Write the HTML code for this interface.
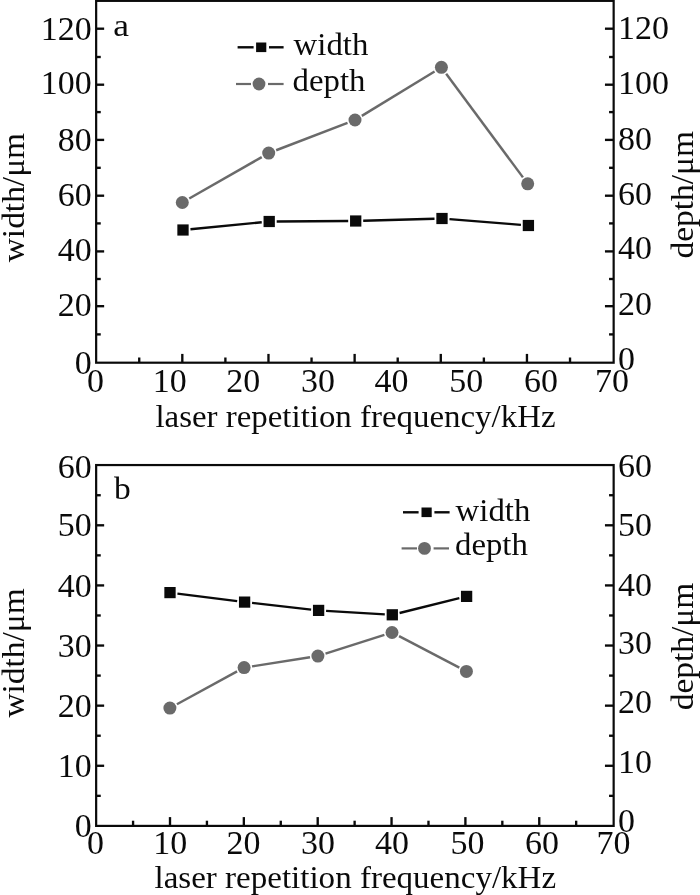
<!DOCTYPE html>
<html lang="en">
<head>
<meta charset="utf-8">
<title>Groove width and depth versus laser repetition frequency</title>
<style>
html,body{margin:0;padding:0;background:#fff;}
body{width:700px;height:895px;overflow:hidden;}
svg{display:block;filter:blur(0.35px);}
svg text{font-family:"Liberation Serif", "DejaVu Serif", serif;}
</style>
</head>
<body>
<svg width="700" height="895" viewBox="0 0 700 895">
<rect x="0" y="0" width="700" height="895" fill="#ffffff"/>
<rect x="96.15" y="0.85" width="517.5" height="361.84999999999997" fill="none" stroke="#0a0a0a" stroke-width="2.2"/>
<line x1="96.15" y1="306.20" x2="104.15" y2="306.20" stroke="#0a0a0a" stroke-width="2.35" stroke-linecap="butt"/>
<line x1="613.65" y1="306.20" x2="604.95" y2="306.20" stroke="#0a0a0a" stroke-width="2.35" stroke-linecap="butt"/>
<line x1="96.15" y1="251.40" x2="104.15" y2="251.40" stroke="#0a0a0a" stroke-width="2.35" stroke-linecap="butt"/>
<line x1="613.65" y1="251.40" x2="604.95" y2="251.40" stroke="#0a0a0a" stroke-width="2.35" stroke-linecap="butt"/>
<line x1="96.15" y1="195.70" x2="104.15" y2="195.70" stroke="#0a0a0a" stroke-width="2.35" stroke-linecap="butt"/>
<line x1="613.65" y1="195.70" x2="604.95" y2="195.70" stroke="#0a0a0a" stroke-width="2.35" stroke-linecap="butt"/>
<line x1="96.15" y1="139.90" x2="104.15" y2="139.90" stroke="#0a0a0a" stroke-width="2.35" stroke-linecap="butt"/>
<line x1="613.65" y1="139.90" x2="604.95" y2="139.90" stroke="#0a0a0a" stroke-width="2.35" stroke-linecap="butt"/>
<line x1="96.15" y1="84.70" x2="104.15" y2="84.70" stroke="#0a0a0a" stroke-width="2.35" stroke-linecap="butt"/>
<line x1="613.65" y1="84.70" x2="604.95" y2="84.70" stroke="#0a0a0a" stroke-width="2.35" stroke-linecap="butt"/>
<line x1="96.15" y1="28.70" x2="104.15" y2="28.70" stroke="#0a0a0a" stroke-width="2.35" stroke-linecap="butt"/>
<line x1="613.65" y1="28.70" x2="604.95" y2="28.70" stroke="#0a0a0a" stroke-width="2.35" stroke-linecap="butt"/>
<line x1="96.15" y1="334.40" x2="100.75" y2="334.40" stroke="#0a0a0a" stroke-width="2.35" stroke-linecap="butt"/>
<line x1="613.65" y1="334.40" x2="609.05" y2="334.40" stroke="#0a0a0a" stroke-width="2.35" stroke-linecap="butt"/>
<line x1="96.15" y1="279.00" x2="100.75" y2="279.00" stroke="#0a0a0a" stroke-width="2.35" stroke-linecap="butt"/>
<line x1="613.65" y1="279.00" x2="609.05" y2="279.00" stroke="#0a0a0a" stroke-width="2.35" stroke-linecap="butt"/>
<line x1="96.15" y1="223.40" x2="100.75" y2="223.40" stroke="#0a0a0a" stroke-width="2.35" stroke-linecap="butt"/>
<line x1="613.65" y1="223.40" x2="609.05" y2="223.40" stroke="#0a0a0a" stroke-width="2.35" stroke-linecap="butt"/>
<line x1="96.15" y1="167.80" x2="100.75" y2="167.80" stroke="#0a0a0a" stroke-width="2.35" stroke-linecap="butt"/>
<line x1="613.65" y1="167.80" x2="609.05" y2="167.80" stroke="#0a0a0a" stroke-width="2.35" stroke-linecap="butt"/>
<line x1="96.15" y1="112.10" x2="100.75" y2="112.10" stroke="#0a0a0a" stroke-width="2.35" stroke-linecap="butt"/>
<line x1="613.65" y1="112.10" x2="609.05" y2="112.10" stroke="#0a0a0a" stroke-width="2.35" stroke-linecap="butt"/>
<line x1="96.15" y1="57.00" x2="100.75" y2="57.00" stroke="#0a0a0a" stroke-width="2.35" stroke-linecap="butt"/>
<line x1="613.65" y1="57.00" x2="609.05" y2="57.00" stroke="#0a0a0a" stroke-width="2.35" stroke-linecap="butt"/>
<line x1="182.31" y1="362.70" x2="182.31" y2="353.90" stroke="#0a0a0a" stroke-width="2.35" stroke-linecap="butt"/>
<line x1="268.47" y1="362.70" x2="268.47" y2="353.90" stroke="#0a0a0a" stroke-width="2.35" stroke-linecap="butt"/>
<line x1="354.63" y1="362.70" x2="354.63" y2="353.90" stroke="#0a0a0a" stroke-width="2.35" stroke-linecap="butt"/>
<line x1="440.79" y1="362.70" x2="440.79" y2="353.90" stroke="#0a0a0a" stroke-width="2.35" stroke-linecap="butt"/>
<line x1="526.95" y1="362.70" x2="526.95" y2="353.90" stroke="#0a0a0a" stroke-width="2.35" stroke-linecap="butt"/>
<line x1="139.23" y1="362.70" x2="139.23" y2="357.50" stroke="#0a0a0a" stroke-width="2.35" stroke-linecap="butt"/>
<line x1="225.39" y1="362.70" x2="225.39" y2="357.50" stroke="#0a0a0a" stroke-width="2.35" stroke-linecap="butt"/>
<line x1="311.55" y1="362.70" x2="311.55" y2="357.50" stroke="#0a0a0a" stroke-width="2.35" stroke-linecap="butt"/>
<line x1="397.71" y1="362.70" x2="397.71" y2="357.50" stroke="#0a0a0a" stroke-width="2.35" stroke-linecap="butt"/>
<line x1="483.87" y1="362.70" x2="483.87" y2="357.50" stroke="#0a0a0a" stroke-width="2.35" stroke-linecap="butt"/>
<line x1="570.03" y1="362.70" x2="570.03" y2="357.50" stroke="#0a0a0a" stroke-width="2.35" stroke-linecap="butt"/>
<text transform="translate(91.75 373.70) scale(1.02 1)" text-anchor="end" font-size="33.3" fill="#0a0a0a">0</text>
<text transform="translate(91.75 316.20) scale(1.02 1)" text-anchor="end" font-size="33.3" fill="#0a0a0a">20</text>
<text transform="translate(91.75 260.50) scale(1.02 1)" text-anchor="end" font-size="33.3" fill="#0a0a0a">40</text>
<text transform="translate(91.75 205.70) scale(1.02 1)" text-anchor="end" font-size="33.3" fill="#0a0a0a">60</text>
<text transform="translate(91.75 151.00) scale(1.02 1)" text-anchor="end" font-size="33.3" fill="#0a0a0a">80</text>
<text transform="translate(91.75 94.00) scale(1.02 1)" text-anchor="end" font-size="33.3" fill="#0a0a0a">100</text>
<text transform="translate(91.75 39.80) scale(1.02 1)" text-anchor="end" font-size="33.3" fill="#0a0a0a">120</text>
<text transform="translate(617.95 370.00) scale(1.02 1)" text-anchor="start" font-size="33.3" fill="#0a0a0a">0</text>
<text transform="translate(617.95 315.00) scale(1.02 1)" text-anchor="start" font-size="33.3" fill="#0a0a0a">20</text>
<text transform="translate(617.95 259.40) scale(1.02 1)" text-anchor="start" font-size="33.3" fill="#0a0a0a">40</text>
<text transform="translate(617.95 204.80) scale(1.02 1)" text-anchor="start" font-size="33.3" fill="#0a0a0a">60</text>
<text transform="translate(617.95 150.10) scale(1.02 1)" text-anchor="start" font-size="33.3" fill="#0a0a0a">80</text>
<text transform="translate(617.95 94.20) scale(1.02 1)" text-anchor="start" font-size="33.3" fill="#0a0a0a">100</text>
<text transform="translate(617.95 38.80) scale(1.02 1)" text-anchor="start" font-size="33.3" fill="#0a0a0a">120</text>
<text transform="translate(95.50 392.20) scale(1.02 1)" text-anchor="middle" font-size="33.3" fill="#0a0a0a">0</text>
<text transform="translate(169.80 392.20) scale(1.02 1)" text-anchor="middle" font-size="33.3" fill="#0a0a0a">10</text>
<text transform="translate(243.20 392.20) scale(1.02 1)" text-anchor="middle" font-size="33.3" fill="#0a0a0a">20</text>
<text transform="translate(318.00 392.20) scale(1.02 1)" text-anchor="middle" font-size="33.3" fill="#0a0a0a">30</text>
<text transform="translate(391.50 392.20) scale(1.02 1)" text-anchor="middle" font-size="33.3" fill="#0a0a0a">40</text>
<text transform="translate(466.30 392.20) scale(1.02 1)" text-anchor="middle" font-size="33.3" fill="#0a0a0a">50</text>
<text transform="translate(541.00 392.20) scale(1.02 1)" text-anchor="middle" font-size="33.3" fill="#0a0a0a">60</text>
<text transform="translate(612.00 392.20) scale(1.02 1)" text-anchor="middle" font-size="33.3" fill="#0a0a0a">70</text>
<text transform="translate(23.70 197.60) rotate(-90) scale(1.065 1)" text-anchor="middle" font-size="31.4" fill="#0a0a0a">width/μm</text>
<text transform="translate(692.50 194.80) rotate(-90) scale(1.065 1)" text-anchor="middle" font-size="31.4" fill="#0a0a0a">depth/μm</text>
<text transform="translate(155.40 426.90) scale(1.048 1)" text-anchor="start" font-size="31.4" fill="#0a0a0a">laser repetition frequency/kHz</text>
<text transform="translate(113.20 35.80) scale(1.09 1)" text-anchor="start" font-size="32.6" fill="#0a0a0a">a</text>
<line x1="189.24" y1="198.53" x2="261.76" y2="157.07" stroke="#6a6a6a" stroke-width="2.45" stroke-linecap="butt"/>
<line x1="276.17" y1="150.24" x2="347.53" y2="122.86" stroke="#6a6a6a" stroke-width="2.45" stroke-linecap="butt"/>
<line x1="361.83" y1="115.83" x2="434.57" y2="71.47" stroke="#6a6a6a" stroke-width="2.45" stroke-linecap="butt"/>
<line x1="446.16" y1="73.73" x2="522.94" y2="177.37" stroke="#6a6a6a" stroke-width="2.45" stroke-linecap="butt"/>
<line x1="190.46" y1="229.26" x2="261.74" y2="222.24" stroke="#0a0a0a" stroke-width="2.35" stroke-linecap="butt"/>
<line x1="276.70" y1="221.46" x2="348.20" y2="221.04" stroke="#0a0a0a" stroke-width="2.35" stroke-linecap="butt"/>
<line x1="363.20" y1="220.78" x2="434.50" y2="218.72" stroke="#0a0a0a" stroke-width="2.35" stroke-linecap="butt"/>
<line x1="449.48" y1="219.11" x2="520.92" y2="224.89" stroke="#0a0a0a" stroke-width="2.35" stroke-linecap="butt"/>
<circle cx="182.30" cy="202.50" r="6.5" fill="#6a6a6a"/>
<circle cx="268.70" cy="153.10" r="6.5" fill="#6a6a6a"/>
<circle cx="355.00" cy="120.00" r="6.5" fill="#6a6a6a"/>
<circle cx="441.40" cy="67.30" r="6.5" fill="#6a6a6a"/>
<circle cx="527.70" cy="183.80" r="6.5" fill="#6a6a6a"/>
<rect x="177.35" y="224.40" width="11.3" height="11.2" fill="#0a0a0a"/>
<rect x="263.55" y="215.90" width="11.3" height="11.2" fill="#0a0a0a"/>
<rect x="350.05" y="215.40" width="11.3" height="11.2" fill="#0a0a0a"/>
<rect x="436.35" y="212.90" width="11.3" height="11.2" fill="#0a0a0a"/>
<rect x="522.75" y="219.90" width="11.3" height="11.2" fill="#0a0a0a"/>
<line x1="237.60" y1="47.30" x2="253.60" y2="47.30" stroke="#0a0a0a" stroke-width="2.4" stroke-linecap="butt"/>
<line x1="269.00" y1="47.30" x2="283.60" y2="47.30" stroke="#0a0a0a" stroke-width="2.4" stroke-linecap="butt"/>
<rect x="256.10" y="42.50" width="10.2" height="9.6" fill="#0a0a0a"/>
<text transform="translate(293.60 54.60) scale(1.045 1)" text-anchor="start" font-size="31.4" fill="#0a0a0a">width</text>
<line x1="236.00" y1="84.00" x2="251.00" y2="84.00" stroke="#6a6a6a" stroke-width="2.2" stroke-linecap="butt"/>
<line x1="268.00" y1="84.00" x2="283.60" y2="84.00" stroke="#6a6a6a" stroke-width="2.2" stroke-linecap="butt"/>
<circle cx="259.00" cy="84.00" r="6.4" fill="#6a6a6a"/>
<text transform="translate(292.60 91.00) scale(1.045 1)" text-anchor="start" font-size="31.4" fill="#0a0a0a">depth</text>
<rect x="96.15" y="465.05" width="517.5" height="360.84999999999997" fill="none" stroke="#0a0a0a" stroke-width="2.2"/>
<line x1="96.15" y1="765.78" x2="104.15" y2="765.78" stroke="#0a0a0a" stroke-width="2.35" stroke-linecap="butt"/>
<line x1="613.65" y1="765.78" x2="604.95" y2="765.78" stroke="#0a0a0a" stroke-width="2.35" stroke-linecap="butt"/>
<line x1="96.15" y1="705.66" x2="104.15" y2="705.66" stroke="#0a0a0a" stroke-width="2.35" stroke-linecap="butt"/>
<line x1="613.65" y1="705.66" x2="604.95" y2="705.66" stroke="#0a0a0a" stroke-width="2.35" stroke-linecap="butt"/>
<line x1="96.15" y1="645.54" x2="104.15" y2="645.54" stroke="#0a0a0a" stroke-width="2.35" stroke-linecap="butt"/>
<line x1="613.65" y1="645.54" x2="604.95" y2="645.54" stroke="#0a0a0a" stroke-width="2.35" stroke-linecap="butt"/>
<line x1="96.15" y1="585.42" x2="104.15" y2="585.42" stroke="#0a0a0a" stroke-width="2.35" stroke-linecap="butt"/>
<line x1="613.65" y1="585.42" x2="604.95" y2="585.42" stroke="#0a0a0a" stroke-width="2.35" stroke-linecap="butt"/>
<line x1="96.15" y1="525.30" x2="104.15" y2="525.30" stroke="#0a0a0a" stroke-width="2.35" stroke-linecap="butt"/>
<line x1="613.65" y1="525.30" x2="604.95" y2="525.30" stroke="#0a0a0a" stroke-width="2.35" stroke-linecap="butt"/>
<line x1="96.15" y1="795.84" x2="100.75" y2="795.84" stroke="#0a0a0a" stroke-width="2.35" stroke-linecap="butt"/>
<line x1="613.65" y1="795.84" x2="609.05" y2="795.84" stroke="#0a0a0a" stroke-width="2.35" stroke-linecap="butt"/>
<line x1="96.15" y1="735.72" x2="100.75" y2="735.72" stroke="#0a0a0a" stroke-width="2.35" stroke-linecap="butt"/>
<line x1="613.65" y1="735.72" x2="609.05" y2="735.72" stroke="#0a0a0a" stroke-width="2.35" stroke-linecap="butt"/>
<line x1="96.15" y1="675.60" x2="100.75" y2="675.60" stroke="#0a0a0a" stroke-width="2.35" stroke-linecap="butt"/>
<line x1="613.65" y1="675.60" x2="609.05" y2="675.60" stroke="#0a0a0a" stroke-width="2.35" stroke-linecap="butt"/>
<line x1="96.15" y1="615.48" x2="100.75" y2="615.48" stroke="#0a0a0a" stroke-width="2.35" stroke-linecap="butt"/>
<line x1="613.65" y1="615.48" x2="609.05" y2="615.48" stroke="#0a0a0a" stroke-width="2.35" stroke-linecap="butt"/>
<line x1="96.15" y1="555.36" x2="100.75" y2="555.36" stroke="#0a0a0a" stroke-width="2.35" stroke-linecap="butt"/>
<line x1="613.65" y1="555.36" x2="609.05" y2="555.36" stroke="#0a0a0a" stroke-width="2.35" stroke-linecap="butt"/>
<line x1="96.15" y1="495.24" x2="100.75" y2="495.24" stroke="#0a0a0a" stroke-width="2.35" stroke-linecap="butt"/>
<line x1="613.65" y1="495.24" x2="609.05" y2="495.24" stroke="#0a0a0a" stroke-width="2.35" stroke-linecap="butt"/>
<line x1="170.00" y1="825.90" x2="170.00" y2="817.10" stroke="#0a0a0a" stroke-width="2.35" stroke-linecap="butt"/>
<line x1="243.85" y1="825.90" x2="243.85" y2="817.10" stroke="#0a0a0a" stroke-width="2.35" stroke-linecap="butt"/>
<line x1="317.70" y1="825.90" x2="317.70" y2="817.10" stroke="#0a0a0a" stroke-width="2.35" stroke-linecap="butt"/>
<line x1="391.55" y1="825.90" x2="391.55" y2="817.10" stroke="#0a0a0a" stroke-width="2.35" stroke-linecap="butt"/>
<line x1="465.40" y1="825.90" x2="465.40" y2="817.10" stroke="#0a0a0a" stroke-width="2.35" stroke-linecap="butt"/>
<line x1="539.25" y1="825.90" x2="539.25" y2="817.10" stroke="#0a0a0a" stroke-width="2.35" stroke-linecap="butt"/>
<line x1="133.07" y1="825.90" x2="133.07" y2="820.70" stroke="#0a0a0a" stroke-width="2.35" stroke-linecap="butt"/>
<line x1="206.93" y1="825.90" x2="206.93" y2="820.70" stroke="#0a0a0a" stroke-width="2.35" stroke-linecap="butt"/>
<line x1="280.77" y1="825.90" x2="280.77" y2="820.70" stroke="#0a0a0a" stroke-width="2.35" stroke-linecap="butt"/>
<line x1="354.62" y1="825.90" x2="354.62" y2="820.70" stroke="#0a0a0a" stroke-width="2.35" stroke-linecap="butt"/>
<line x1="428.48" y1="825.90" x2="428.48" y2="820.70" stroke="#0a0a0a" stroke-width="2.35" stroke-linecap="butt"/>
<line x1="502.33" y1="825.90" x2="502.33" y2="820.70" stroke="#0a0a0a" stroke-width="2.35" stroke-linecap="butt"/>
<line x1="576.17" y1="825.90" x2="576.17" y2="820.70" stroke="#0a0a0a" stroke-width="2.35" stroke-linecap="butt"/>
<text transform="translate(91.75 837.10) scale(1.02 1)" text-anchor="end" font-size="33.3" fill="#0a0a0a">0</text>
<text transform="translate(91.75 776.98) scale(1.02 1)" text-anchor="end" font-size="33.3" fill="#0a0a0a">10</text>
<text transform="translate(91.75 716.86) scale(1.02 1)" text-anchor="end" font-size="33.3" fill="#0a0a0a">20</text>
<text transform="translate(91.75 656.74) scale(1.02 1)" text-anchor="end" font-size="33.3" fill="#0a0a0a">30</text>
<text transform="translate(91.75 596.62) scale(1.02 1)" text-anchor="end" font-size="33.3" fill="#0a0a0a">40</text>
<text transform="translate(91.75 536.00) scale(1.02 1)" text-anchor="end" font-size="33.3" fill="#0a0a0a">50</text>
<text transform="translate(91.75 477.50) scale(1.02 1)" text-anchor="end" font-size="33.3" fill="#0a0a0a">60</text>
<text transform="translate(617.95 832.00) scale(1.02 1)" text-anchor="start" font-size="33.3" fill="#0a0a0a">0</text>
<text transform="translate(617.95 772.70) scale(1.02 1)" text-anchor="start" font-size="33.3" fill="#0a0a0a">10</text>
<text transform="translate(617.95 713.10) scale(1.02 1)" text-anchor="start" font-size="33.3" fill="#0a0a0a">20</text>
<text transform="translate(617.95 653.70) scale(1.02 1)" text-anchor="start" font-size="33.3" fill="#0a0a0a">30</text>
<text transform="translate(617.95 595.60) scale(1.02 1)" text-anchor="start" font-size="33.3" fill="#0a0a0a">40</text>
<text transform="translate(617.95 536.10) scale(1.02 1)" text-anchor="start" font-size="33.3" fill="#0a0a0a">50</text>
<text transform="translate(617.95 477.40) scale(1.02 1)" text-anchor="start" font-size="33.3" fill="#0a0a0a">60</text>
<text transform="translate(95.50 854.20) scale(1.02 1)" text-anchor="middle" font-size="33.3" fill="#0a0a0a">0</text>
<text transform="translate(170.20 854.20) scale(1.02 1)" text-anchor="middle" font-size="33.3" fill="#0a0a0a">10</text>
<text transform="translate(243.50 854.20) scale(1.02 1)" text-anchor="middle" font-size="33.3" fill="#0a0a0a">20</text>
<text transform="translate(318.00 854.20) scale(1.02 1)" text-anchor="middle" font-size="33.3" fill="#0a0a0a">30</text>
<text transform="translate(392.00 854.20) scale(1.02 1)" text-anchor="middle" font-size="33.3" fill="#0a0a0a">40</text>
<text transform="translate(467.50 854.20) scale(1.02 1)" text-anchor="middle" font-size="33.3" fill="#0a0a0a">50</text>
<text transform="translate(542.00 854.20) scale(1.02 1)" text-anchor="middle" font-size="33.3" fill="#0a0a0a">60</text>
<text transform="translate(613.50 854.20) scale(1.02 1)" text-anchor="middle" font-size="33.3" fill="#0a0a0a">70</text>
<text transform="translate(23.70 652.90) rotate(-90) scale(1.065 1)" text-anchor="middle" font-size="31.4" fill="#0a0a0a">width/μm</text>
<text transform="translate(692.50 646.60) rotate(-90) scale(1.065 1)" text-anchor="middle" font-size="31.4" fill="#0a0a0a">depth/μm</text>
<text transform="translate(154.50 887.50) scale(1.052 1)" text-anchor="start" font-size="31.4" fill="#0a0a0a">laser repetition frequency/kHz</text>
<text transform="translate(113.90 498.60) scale(1.06 1)" text-anchor="start" font-size="31.6" fill="#0a0a0a">b</text>
<line x1="176.92" y1="704.27" x2="237.08" y2="671.43" stroke="#6a6a6a" stroke-width="2.45" stroke-linecap="butt"/>
<line x1="252.00" y1="666.37" x2="310.00" y2="657.33" stroke="#6a6a6a" stroke-width="2.45" stroke-linecap="butt"/>
<line x1="325.52" y1="653.67" x2="384.38" y2="634.93" stroke="#6a6a6a" stroke-width="2.45" stroke-linecap="butt"/>
<line x1="399.09" y1="636.21" x2="459.31" y2="667.69" stroke="#6a6a6a" stroke-width="2.45" stroke-linecap="butt"/>
<line x1="177.44" y1="593.55" x2="237.16" y2="601.15" stroke="#0a0a0a" stroke-width="2.35" stroke-linecap="butt"/>
<line x1="252.05" y1="602.94" x2="311.15" y2="609.56" stroke="#0a0a0a" stroke-width="2.35" stroke-linecap="butt"/>
<line x1="326.09" y1="610.85" x2="384.81" y2="614.35" stroke="#0a0a0a" stroke-width="2.35" stroke-linecap="butt"/>
<line x1="399.58" y1="613.00" x2="459.32" y2="598.20" stroke="#0a0a0a" stroke-width="2.35" stroke-linecap="butt"/>
<circle cx="169.90" cy="708.10" r="6.5" fill="#6a6a6a"/>
<circle cx="244.10" cy="667.60" r="6.5" fill="#6a6a6a"/>
<circle cx="317.90" cy="656.10" r="6.5" fill="#6a6a6a"/>
<circle cx="392.00" cy="632.50" r="6.5" fill="#6a6a6a"/>
<circle cx="466.40" cy="671.40" r="6.5" fill="#6a6a6a"/>
<rect x="164.35" y="587.00" width="11.3" height="11.2" fill="#0a0a0a"/>
<rect x="238.95" y="596.50" width="11.3" height="11.2" fill="#0a0a0a"/>
<rect x="312.95" y="604.80" width="11.3" height="11.2" fill="#0a0a0a"/>
<rect x="386.65" y="609.20" width="11.3" height="11.2" fill="#0a0a0a"/>
<rect x="460.95" y="590.80" width="11.3" height="11.2" fill="#0a0a0a"/>
<line x1="403.00" y1="512.30" x2="418.60" y2="512.30" stroke="#0a0a0a" stroke-width="2.4" stroke-linecap="butt"/>
<line x1="434.40" y1="512.30" x2="449.60" y2="512.30" stroke="#0a0a0a" stroke-width="2.4" stroke-linecap="butt"/>
<rect x="421.50" y="507.50" width="10.2" height="9.6" fill="#0a0a0a"/>
<text transform="translate(455.60 521.00) scale(1.045 1)" text-anchor="start" font-size="31.4" fill="#0a0a0a">width</text>
<line x1="401.60" y1="548.40" x2="417.00" y2="548.40" stroke="#6a6a6a" stroke-width="2.2" stroke-linecap="butt"/>
<line x1="433.60" y1="548.40" x2="449.00" y2="548.40" stroke="#6a6a6a" stroke-width="2.2" stroke-linecap="butt"/>
<circle cx="424.50" cy="548.40" r="6.4" fill="#6a6a6a"/>
<text transform="translate(455.00 555.40) scale(1.045 1)" text-anchor="start" font-size="31.4" fill="#0a0a0a">depth</text>
</svg>
</body>
</html>
